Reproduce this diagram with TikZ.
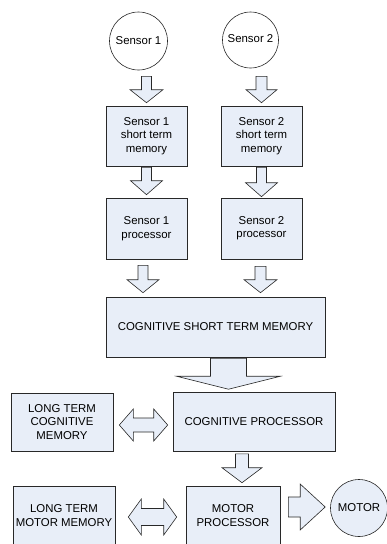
\documentclass[tikz,border=0pt]{standalone}
\usepackage{fontspec}
\setmainfont{Liberation Sans}
\usetikzlibrary{calc}
\definecolor{boxfill}{RGB}{232,238,248}
\definecolor{linec}{RGB}{40,40,40}
\tikzset{
  box/.style={draw=linec, fill=boxfill, line width=0.6pt, inner sep=0pt, align=center},
  sensor/.style={circle, draw=linec, fill=white, line width=0.6pt, inner sep=0pt},
  blockarr/.style={draw=linec, fill=boxfill, line width=0.6pt, line join=miter},
}
% from, to, shaft half width, head half width, head length
\newcommand\blockarrow[5]{%
  \coordinate (ba-a) at (#1);
  \coordinate (ba-b) at (#2);
  \coordinate (ba-h) at ($(ba-b)!#5!(ba-a)$);
  \draw[blockarr] ($(ba-a)!#3!90:(ba-b)$) -- ($(ba-h)!#3!-90:(ba-a)$) -- ($(ba-h)!#4!-90:(ba-a)$)
    -- (ba-b) -- ($(ba-h)!#4!90:(ba-a)$) -- ($(ba-h)!#3!90:(ba-a)$) -- ($(ba-a)!#3!-90:(ba-b)$) -- cycle;
}
\newcommand\doubleblock[5]{%
  \coordinate (ba-a) at (#1);
  \coordinate (ba-b) at (#2);
  \coordinate (ba-h) at ($(ba-b)!#5!(ba-a)$);
  \coordinate (ba-g) at ($(ba-a)!#5!(ba-b)$);
  \draw[blockarr] (ba-a) -- ($(ba-g)!#4!90:(ba-b)$) -- ($(ba-g)!#3!90:(ba-b)$) -- ($(ba-h)!#3!-90:(ba-a)$)
    -- ($(ba-h)!#4!-90:(ba-a)$) -- (ba-b) -- ($(ba-h)!#4!90:(ba-a)$) -- ($(ba-h)!#3!90:(ba-a)$)
    -- ($(ba-g)!#3!-90:(ba-b)$) -- ($(ba-g)!#4!-90:(ba-b)$) -- cycle;
}
\newcommand\upstack[1]{\raisebox{4.5pt}{\begin{tabular}{@{}c@{}}#1\end{tabular}}}
\begin{document}
\begin{tikzpicture}[x=1pt, y=-1pt, font=\fontsize{11.4}{13.5}\selectfont]
\clip (0,0) rectangle (387,544);
\useasboundingbox (0,0) rectangle (387,544);

% sensors
\node[sensor, minimum size=58pt] (s1) at (138.5,41) {Sensor 1};
\node[sensor, minimum size=56pt] (s2) at (250.5,40) {\upstack{Sensor 2}};

% short term memories and processors
\node[box, minimum width=81pt, minimum height=60pt] (m1) at (146.5,136) {Sensor 1\\short term\\memory};
\node[box, minimum width=81pt, minimum height=60pt] (m2) at (261.5,136) {\upstack{Sensor 2\\short term\\memory}};
\node[box, minimum width=81pt, minimum height=61pt] (p1) at (146.5,228.5) {Sensor 1\\processor};
\node[box, minimum width=81pt, minimum height=61pt] (p2) at (261.5,228.5) {\upstack{Sensor 2\\processor}};

% cognitive part
\node[box, minimum width=219pt, minimum height=60pt] (cstm) at (215.5,327) {COGNITIVE SHORT TERM MEMORY};
\node[box, minimum width=162pt, minimum height=59pt] (cp) at (254,422) {COGNITIVE PROCESSOR};
\node[box, minimum width=102pt, minimum height=58pt] (ltcm) at (62,422) {LONG TERM\\COGNITIVE\\MEMORY};

% motor part
\node[box, minimum width=94pt, minimum height=59pt] (mp) at (233,515.5) {MOTOR\\PROCESSOR};
\node[box, minimum width=102pt, minimum height=59pt] (ltmm) at (64,515.5) {LONG TERM\\MOTOR MEMORY};
\node[sensor, fill=boxfill, minimum size=57pt] (motor) at (359,508) {MOTOR};

% arrows
\blockarrow{$(s1.south -| m1.north)+(0,6)$}{$(m1.north)+(0,-3)$}{5pt}{16.5pt}{13pt}
\blockarrow{$(s2.south -| m2.north)+(0,8)$}{$(m2.north)+(0,-3)$}{5.5pt}{15.5pt}{13pt}
\blockarrow{$(m1.south)+(0,1)$}{$(p1.north)+(0,-3)$}{5pt}{16pt}{14pt}
\blockarrow{$(m2.south)+(0,1)$}{$(p2.north)+(0,-1)$}{5pt}{16pt}{14pt}
\blockarrow{$(p1.south)+(-3.5,6)$}{$(p1.south |- cstm.north)+(-3.5,-4)$}{5pt}{16pt}{13pt}
\blockarrow{$(p2.south)+(-1,7)$}{$(p2.south |- cstm.north)+(-1,-4)$}{5.5pt}{16.5pt}{13pt}
\blockarrow{$(cstm.south)+(13,1)$}{$(cstm.south |- cp.north)+(13,-3)$}{18pt}{52pt}{13pt}
\doubleblock{$(ltcm.east)+(6,3)$}{$(ltcm.east -| cp.west)+(-5,3)$}{7pt}{16pt}{14pt}
\blockarrow{$(cp.south)+(-12,2)$}{$(cp.south |- mp.north)+(-12,-3)$}{6.5pt}{20pt}{15pt}
\doubleblock{$(ltmm.east)+(13,1.5)$}{$(ltmm.east -| mp.west)+(-9,1.5)$}{8.5pt}{18pt}{13pt}
\blockarrow{$(mp.east |- motor.west)+(8,-1)$}{$(motor.west)+(-5,-1)$}{10pt}{23pt}{25pt}
\end{tikzpicture}
\end{document}
